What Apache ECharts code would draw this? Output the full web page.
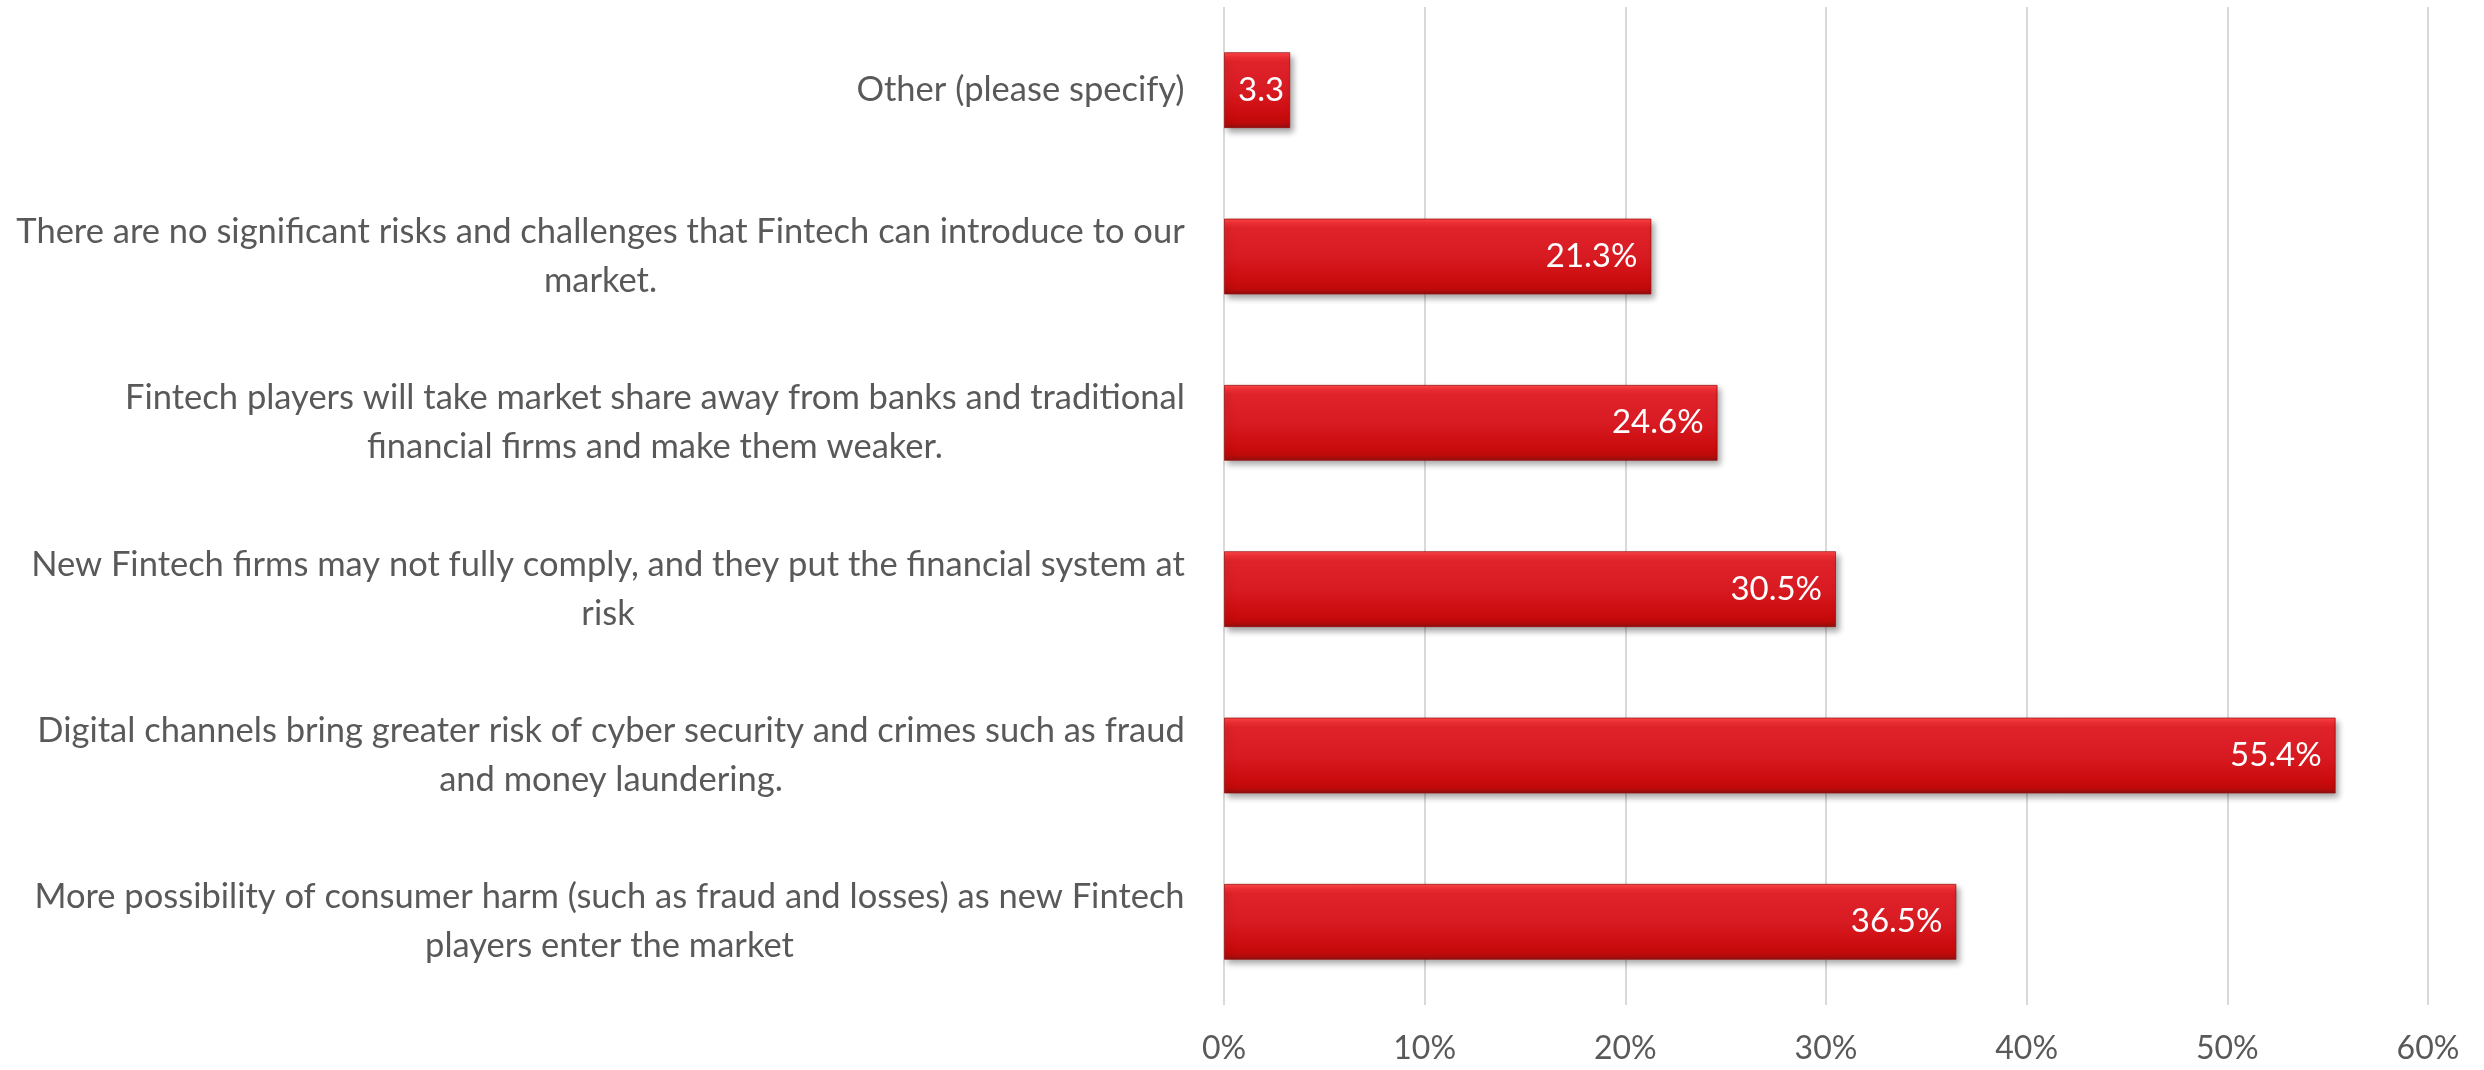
<!DOCTYPE html>
<html>
<head>
<meta charset="utf-8">
<script src="https://cdn.jsdelivr.net/npm/echarts@6/dist/echarts.min.js"></script>
<style>
  html, body { margin: 0; padding: 0; background: #ffffff; }
  #chart { width: 2484px; height: 1070px; }
</style>
</head>
<body>
<div id="chart"></div>
<script>
// Survey answers, listed top to bottom as drawn
const categories = [
  'Other (please specify)',
  'There are no significant risks and challenges that Fintech can introduce to our\nmarket.',
  'Fintech players will take market share away from banks and traditional\nfinancial firms and make them weaker.',
  'New Fintech firms may not fully comply, and they put the financial system at\nrisk',
  'Digital channels bring greater risk of cyber security and crimes such as fraud\nand money laundering.',
  'More possibility of consumer harm (such as fraud and losses) as new Fintech\nplayers enter the market'
];
// Share of respondents, in percent
const values = [3.3, 21.3, 24.6, 30.5, 55.4, 36.5];
// Percent axis
const axisMin = 0;
const axisMax = 60;
const axisStep = 10;

const FONT = 'Lato, "Open Sans", "Liberation Sans", sans-serif';
const TEXT_COLOR = '#595959';
const CAT_SIZE = 34.5;

// Each multi-line category label is centred on its own longest line
const measureCtx = document.createElement('canvas').getContext('2d');
measureCtx.font = CAT_SIZE + 'px ' + FONT;
const rich = {};
categories.forEach((c, i) => {
  const w = Math.max(...c.split('\n').map(l => measureCtx.measureText(l).width));
  rich['c' + i] = {
    width: Math.ceil(w) + 2,
    align: 'center',
    fontSize: CAT_SIZE,
    fontFamily: FONT,
    color: TEXT_COLOR,
    lineHeight: 49
  };
});

const barFill = new echarts.graphic.LinearGradient(0, 0, 0, 1, [
  { offset: 0, color: '#ff4a4a' },
  { offset: 0.06, color: '#f23035' },
  { offset: 0.13, color: '#e0232a' },
  { offset: 0.5, color: '#d81b22' },
  { offset: 0.84, color: '#ca0b0d' },
  { offset: 0.93, color: '#bd0a0a' },
  { offset: 1, color: '#8e1010' }
]);

const seriesData = values.map((v) => {
  const item = { value: v };
  if (v < 5) {
    // too short for the whole label: it is cut at the bar's end
    item.label = {
      position: 'insideLeft',
      distance: 14,
      width: 62,
      overflow: 'truncate',
      ellipsis: ''
    };
  }
  return item;
});

const chart = echarts.init(document.getElementById('chart'), null, { renderer: 'canvas' });
chart.setOption({
  backgroundColor: '#ffffff',
  animation: false,
  grid: { left: 1224, right: 56, top: 7, bottom: 65, containLabel: false },
  xAxis: {
    type: 'value',
    min: axisMin,
    max: axisMax,
    interval: axisStep,
    axisLine: { show: false },
    axisTick: { show: false },
    splitLine: { show: true, lineStyle: { color: '#d9d9d9', width: 2 } },
    axisLabel: {
      formatter: '{value}%',
      color: TEXT_COLOR,
      fontSize: 32,
      fontFamily: FONT,
      margin: 28
    }
  },
  yAxis: {
    type: 'category',
    inverse: true,
    data: categories,
    axisLine: { show: false },
    axisTick: { show: false },
    splitLine: { show: false },
    axisLabel: {
      margin: 38,
      align: 'right',
      rich: rich,
      formatter: (value) => {
        const i = categories.indexOf(value);
        return value.split('\n').map(l => '{c' + i + '|' + l + '}').join('\n');
      }
    }
  },
  series: [{
    type: 'bar',
    data: seriesData,
    barWidth: 76,
    itemStyle: {
      color: barFill,
      borderColor: 'rgba(150,10,10,0.7)',
      borderWidth: 1,
      shadowColor: 'rgba(0,0,0,0.35)',
      shadowBlur: 6,
      shadowOffsetX: 3,
      shadowOffsetY: 4
    },
    label: {
      show: true,
      position: 'insideRight',
      distance: 14,
      color: '#ffffff',
      fontSize: 33,
      fontFamily: FONT,
      formatter: (p) => p.value.toFixed(1) + '%'
    }
  }]
});
</script>
</body>
</html>
